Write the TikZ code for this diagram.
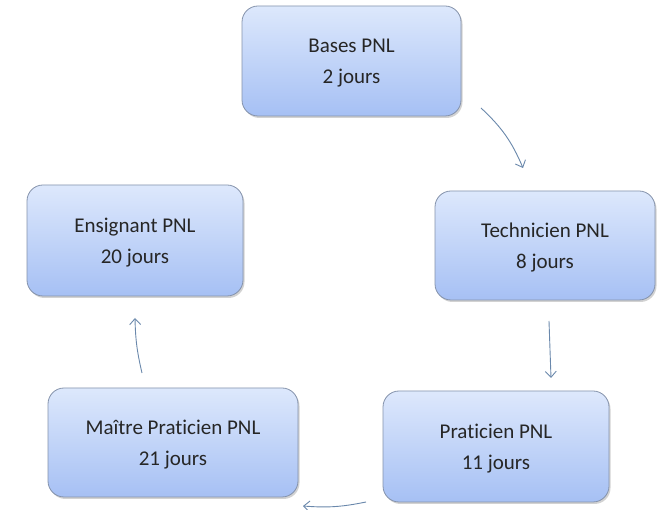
\documentclass[tikz,border=0pt]{standalone}
\usepackage{fontspec}
\setmainfont{Carlito}[Ligatures={NoCommon, NoContextual}]
\usetikzlibrary{positioning, arrows.meta, shadows}
\definecolor{boxtop}{HTML}{DDE8FC}
\definecolor{boxbot}{HTML}{A6C0F4}
\definecolor{boxline}{HTML}{8593AC}
\definecolor{arrowcol}{HTML}{6A88AC}
\tikzset{
    x=1pt, y=-1pt, % pixel-like units, y going down
    >={Straight Barb[length=6pt, width=11pt]}, % thin open arrow heads
    every edge/.style={draw=arrowcol, line width=0.9pt, ->}, % the arrows between the steps
    stage/.style={draw=boxline, line width=0.8pt, rounded corners=16pt,
        top color=boxtop, bottom color=boxbot,
        drop shadow={shadow xshift=1.5pt, shadow yshift=-2pt, opacity=0.35},
        align=center, text depth=0pt, font=\fontsize{21}{31}\selectfont, text=black!85}, % sets the properties for each box
}
\begin{document}
\begin{tikzpicture}
    \useasboundingbox[fill=white] (0,0) rectangle (657,510);
    \node[stage, minimum width=219pt, minimum height=110pt] (bases) at (351.5,61) {Bases PNL\\2 jours};
    \node[stage, minimum width=220pt, minimum height=109pt] (tech) at (545,245.5) {Technicien PNL\\8 jours};
    \node[stage, minimum width=226pt, minimum height=111pt] (prat) at (496,446.5) {Praticien PNL\\11 jours};
    \node[stage, minimum width=250pt, minimum height=109pt] (maitre) at (173,442.5) {Maître Praticien PNL\\21 jours};
    \node[stage, minimum width=216pt, minimum height=111pt] (ens) at (135,240.5) {Ensignant PNL\\20 jours};
    % free ends of the arrows
    \coordinate (b1) at (481,108);
    \coordinate (b2) at (523,168);
    \coordinate (t1) at (549,321);
    \coordinate (t2) at (551,378);
    \coordinate (p1) at (366,502);
    \coordinate (p2) at (303,506);
    \coordinate (m1) at (142,373);
    \coordinate (m2) at (135,318);
    \path (b1) edge[bend left=12] (b2)
          (t1) edge (t2)
          (p1) edge[bend left=8] (p2)
          (m1) edge[bend left=6] (m2);
\end{tikzpicture}
\end{document}
